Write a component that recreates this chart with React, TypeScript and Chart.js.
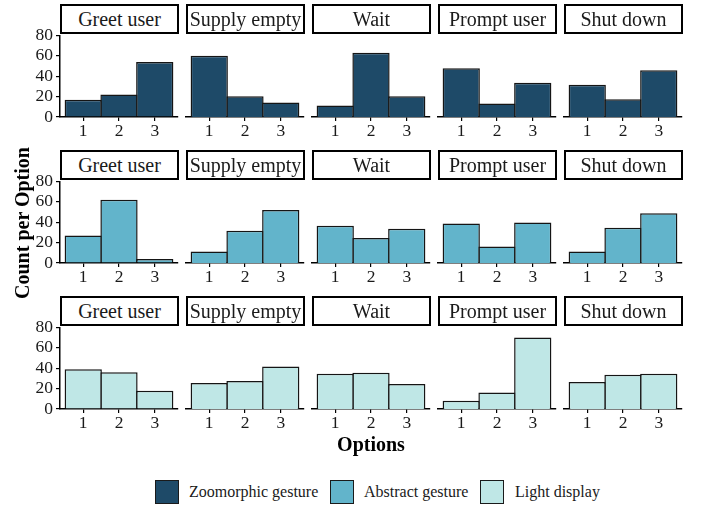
import React, { useEffect, useRef } from 'react';
import { Chart, registerables } from 'chart.js';

Chart.register(...registerables);

// ---- data ----
const facets = ['Greet user', 'Supply empty', 'Wait', 'Prompt user', 'Shut down'];
const optionValues = [1, 2, 3];
const optionLabels = ['1', '2', '3'];
const yTicks = [0, 20, 40, 60, 80];
const seriesNames = ['Zoomorphic gesture', 'Abstract gesture', 'Light display'];
const zoomorphic = [
  [17, 22, 54],
  [59, 20, 14],
  [11, 62, 20],
  [47, 13, 33],
  [31, 17, 45],
];
const abstractGesture = [
  [27, 62, 4],
  [11, 31, 51],
  [36, 24, 33],
  [38, 16, 39],
  [11, 34, 48],
];
const lightDisplay = [
  [39, 36, 18],
  [25, 27, 41],
  [34, 35, 24],
  [8, 16, 69],
  [26, 33, 34],
];
const seriesColors = ['#1E4A68', '#62B4CB', '#BFE7E6'];
const allSeries = [zoomorphic, abstractGesture, lightDisplay];

// ---- layout ----
const FONT = "'Liberation Serif', 'Times New Roman', serif";
const TICK_SIZE = 17.5;
const L = 45;
const R = 6;
const T = 12;
const B = 30;
const plotW = 118;
const plotH = 83;
const colLefts = [60, 186, 312, 438, 564];
const rowTops = [34, 180, 326];

type PanelProps = { values: number[]; color: string; showY: boolean; left: number; top: number };

function Panel({ values, color, showY, left, top }: PanelProps) {
  const ref = useRef<HTMLCanvasElement>(null);
  useEffect(() => {
    const chart = new Chart(ref.current as HTMLCanvasElement, {
      type: 'bar',
      data: {
        datasets: [
          {
            data: optionValues.map((x, i) => ({ x, y: values[i] })),
            backgroundColor: color,
            borderColor: '#151515',
            borderWidth: 1.5,
            barPercentage: 1.042,
            categoryPercentage: 1,
          } as any,
        ],
      },
      options: {
        responsive: false,
        animation: false,
        devicePixelRatio: 1,
        layout: { padding: { left: 0, right: R, top: T, bottom: 0 } },
        plugins: { legend: { display: false }, tooltip: { enabled: false } },
        scales: {
          x: {
            type: 'linear',
            min: 0.35,
            max: 3.65,
            offset: false,
            afterBuildTicks: (s: any) => {
              s.ticks = optionValues.map((v) => ({ value: v }));
            },
            afterFit: (s: any) => {
              s.height = B;
            },
            ticks: {
              autoSkip: false,
              maxRotation: 0,
              padding: 0,
              color: '#1a1a1a',
              font: { family: FONT, size: TICK_SIZE },
              callback: (v: any) => {
                const i = optionValues.indexOf(Number(v));
                return i >= 0 ? optionLabels[i] : '';
              },
            },
            grid: {
              offset: false,
              drawOnChartArea: false,
              drawTicks: true,
              tickLength: 4,
              color: '#000',
              lineWidth: 1.2,
            },
            border: { display: true, color: '#000', width: 1.5 },
          } as any,
          y: {
            type: 'linear',
            display: showY,
            min: 0,
            max: 80,
            afterBuildTicks: (s: any) => {
              s.ticks = yTicks.map((v) => ({ value: v }));
            },
            afterFit: (s: any) => {
              s.width = L;
            },
            ticks: {
              autoSkip: false,
              padding: 3,
              color: '#1a1a1a',
              font: { family: FONT, size: TICK_SIZE },
            },
            grid: {
              drawOnChartArea: false,
              drawTicks: true,
              tickLength: 4,
              color: '#000',
              lineWidth: 1.2,
            },
            border: { display: true, color: '#000', width: 1.5 },
          } as any,
        },
      },
    });
    return () => chart.destroy();
  }, []);
  return (
    <canvas
      ref={ref}
      width={L + plotW + R}
      height={T + plotH + B}
      style={{ position: 'absolute', left: left - L, top: top - T, width: L + plotW + R, height: T + plotH + B }}
    />
  );
}

export default function App() {
  const panels: React.ReactNode[] = [];
  const strips: React.ReactNode[] = [];
  allSeries.forEach((series, r) => {
    facets.forEach((f, c) => {
      panels.push(
        <Panel
          key={`p-${r}-${c}`}
          values={series[c]}
          color={seriesColors[r]}
          showY={c === 0}
          left={colLefts[c]}
          top={rowTops[r]}
        />
      );
      strips.push(
        <div
          key={`s-${r}-${c}`}
          style={{
            position: 'absolute',
            left: colLefts[c],
            top: rowTops[r] - 30,
            width: plotW + 1,
            height: 30,
            boxSizing: 'border-box',
            border: '2.2px solid #000',
            background: '#fff',
            display: 'flex',
            alignItems: 'center',
            justifyContent: 'center',
            fontFamily: FONT,
            fontSize: 20,
            lineHeight: '20px',
            color: '#1a1a1a',
            whiteSpace: 'nowrap',
            overflow: 'hidden',
          }}
        >
          {f}
        </div>
      );
    });
  });

  const legendX = [
    { sq: 155, tx: 189 },
    { sq: 330, tx: 364 },
    { sq: 480, tx: 515 },
  ];

  return (
    <div
      style={{
        position: 'fixed',
        left: 0,
        top: 0,
        width: 704,
        height: 506,
        background: '#fff',
        overflow: 'hidden',
        fontFamily: FONT,
      }}
    >
      {panels}
      {strips}
      <div
        style={{
          position: 'absolute',
          left: 22 - 110,
          top: 223 - 10,
          width: 220,
          height: 20,
          lineHeight: '20px',
          fontSize: 20,
          fontWeight: 'bold',
          textAlign: 'center',
          transform: 'rotate(-90deg)',
          color: '#000',
          whiteSpace: 'nowrap',
        }}
      >
        Count per Option
      </div>
      <div
        style={{
          position: 'absolute',
          left: 371 - 100,
          top: 434,
          width: 200,
          height: 20,
          lineHeight: '20px',
          fontSize: 20,
          fontWeight: 'bold',
          textAlign: 'center',
          color: '#000',
        }}
      >
        Options
      </div>
      {seriesNames.map((name, i) => (
        <React.Fragment key={name}>
          <div
            style={{
              position: 'absolute',
              left: legendX[i].sq,
              top: 480,
              width: 24,
              height: 24,
              boxSizing: 'border-box',
              border: '1.3px solid #1a1a1a',
              background: seriesColors[i],
            }}
          />
          <div
            style={{
              position: 'absolute',
              left: legendX[i].tx,
              top: 482,
              height: 20,
              lineHeight: '20px',
              fontSize: 16,
              color: '#1a1a1a',
              whiteSpace: 'nowrap',
            }}
          >
            {name}
          </div>
        </React.Fragment>
      ))}
    </div>
  );
}
